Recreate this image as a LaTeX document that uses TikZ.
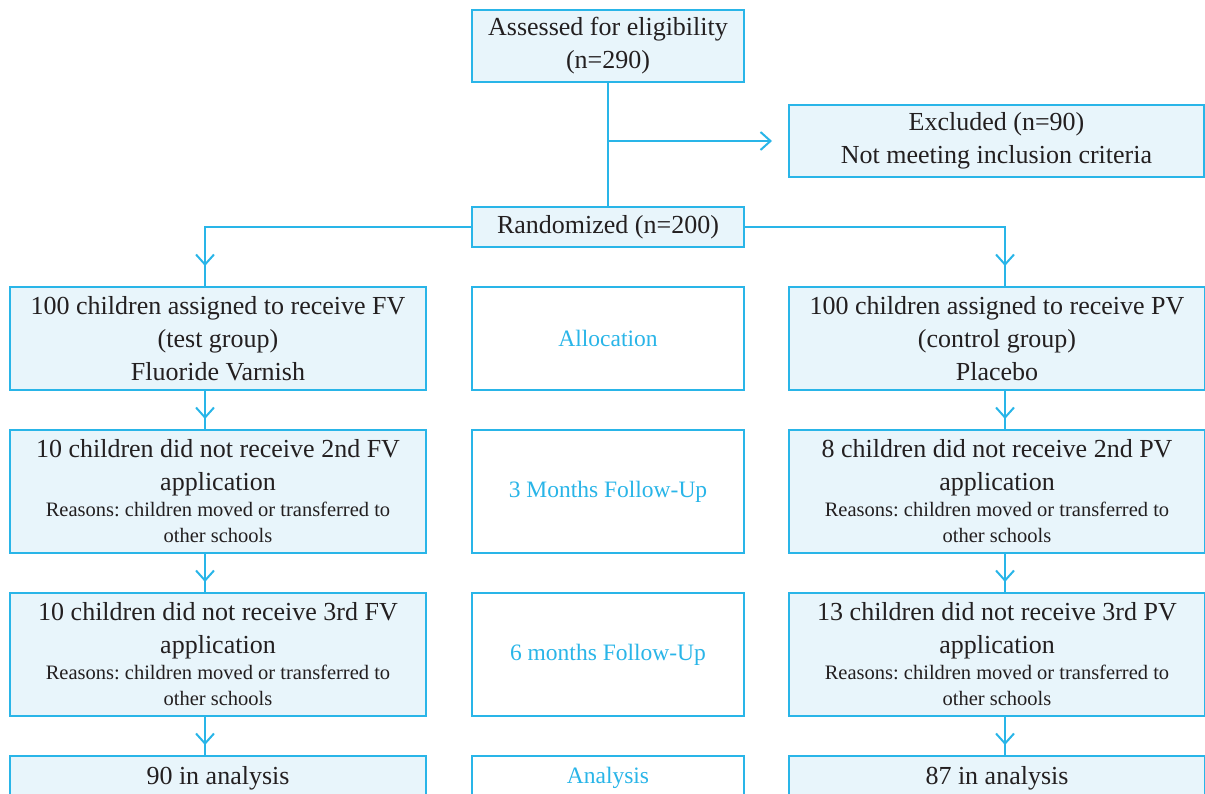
\documentclass[tikz,border=0pt]{standalone}
\usepackage{fontspec}
\setmainfont{Liberation Serif}
\usetikzlibrary{positioning, arrows.meta, decorations.markings}
\definecolor{cbline}{HTML}{29B5E8}
\definecolor{cbfill}{HTML}{E8F5FB}
\definecolor{cbtext}{HTML}{231F20}
\newcommand{\rsn}{\fontsize{20.5}{26}\selectfont}
\frenchspacing

\begin{document}
\begin{tikzpicture}[
    x=1pt, y=-1pt,
    every node/.style={font=\fontsize{26}{33}\selectfont, text=cbtext},
    box/.style={rectangle, draw=cbline, fill=cbfill, line width=1.2pt, align=center, inner sep=0pt, outer sep=0pt},
    stage/.style={rectangle, draw=cbline, fill=white, line width=1.2pt, align=center, inner sep=0pt, outer sep=0pt,
        minimum width=272pt, font=\fontsize{23.5}{30}\selectfont, text=cbline},
    wide/.style={minimum width=416pt},
    tip/.style={-{Straight Barb[length=10pt,width=18pt,line width=2pt]}},
    line/.style={draw=cbline, line width=1.2pt},
    flow/.style={line, postaction={decorate}, decoration={markings,
        mark=at position -#1 with {\arrow{Straight Barb[length=10pt,width=18pt,line width=2pt]}}}},
    flow/.default=11pt
]
\useasboundingbox (0,0) rectangle (1205,794);
\clip (0,0) rectangle (1205,794);

\node (assess) [box, minimum width=272pt, minimum height=72pt, anchor=north west] at (472,10) {Assessed for eligibility\\(n=290)};
\node (excl) [box, minimum width=415pt, minimum height=72pt, anchor=north west] at (789,105) {Excluded (n=90)\\Not meeting inclusion criteria};
\node (rand) [box, minimum width=272pt, minimum height=40pt, anchor=north west] at (472,207) {Randomized (n=200)};

\node (fv1) [box, wide, minimum height=103pt, anchor=north west] at (10,287) {100 children assigned to receive FV\\(test group)\\Fluoride Varnish};
\node (fv2) [box, wide, minimum height=123pt, below=40pt of fv1] {10 children did not receive 2nd FV\\application\\[-7pt]{\rsn Reasons: children moved or transferred to}\\[-7pt]{\rsn other schools}};
\node (fv3) [box, wide, minimum height=123pt, below=40pt of fv2] {10 children did not receive 3rd FV\\application\\[-7pt]{\rsn Reasons: children moved or transferred to}\\[-7pt]{\rsn other schools}};
\node (fv4) [box, wide, minimum height=44pt, below=40pt of fv3] {90 in analysis};

\node (alloc) [stage, minimum height=103pt, right=46pt of fv1] {Allocation};
\node (month3) [stage, minimum height=123pt, right=46pt of fv2] {3 Months Follow-Up};
\node (month6) [stage, minimum height=123pt, right=46pt of fv3] {6 months Follow-Up};
\node (anal) [stage, minimum height=44pt, right=46pt of fv4] {Analysis};

\node (pv1) [box, wide, minimum height=103pt, right=45pt of alloc] {100 children assigned to receive PV\\(control group)\\Placebo};
\node (pv2) [box, wide, minimum height=123pt, right=45pt of month3] {8 children did not receive 2nd PV\\application\\[-7pt]{\rsn Reasons: children moved or transferred to}\\[-7pt]{\rsn other schools}};
\node (pv3) [box, wide, minimum height=123pt, right=45pt of month6] {13 children did not receive 3rd PV\\application\\[-7pt]{\rsn Reasons: children moved or transferred to}\\[-7pt]{\rsn other schools}};
\node (pv4) [box, wide, minimum height=44pt, right=45pt of anal] {87 in analysis};

\coordinate (lx) at (205,227);
\coordinate (rx) at (1005,227);

\draw[line] (assess) -- (rand);
\draw[line, tip, shorten >=17pt] (assess.south |- excl.west) -- (excl.west);
\draw[flow=21pt] (rand.west) -| (lx |- fv1.north);
\draw[flow=21pt] (rand.east) -| (rx |- pv1.north);
\foreach \a/\b in {fv1/fv2, fv2/fv3, fv3/fv4}
    \draw[flow] (lx |- \a.south) -- (lx |- \b.north);
\foreach \a/\b in {pv1/pv2, pv2/pv3, pv3/pv4}
    \draw[flow] (rx |- \a.south) -- (rx |- \b.north);
\end{tikzpicture}
\end{document}
